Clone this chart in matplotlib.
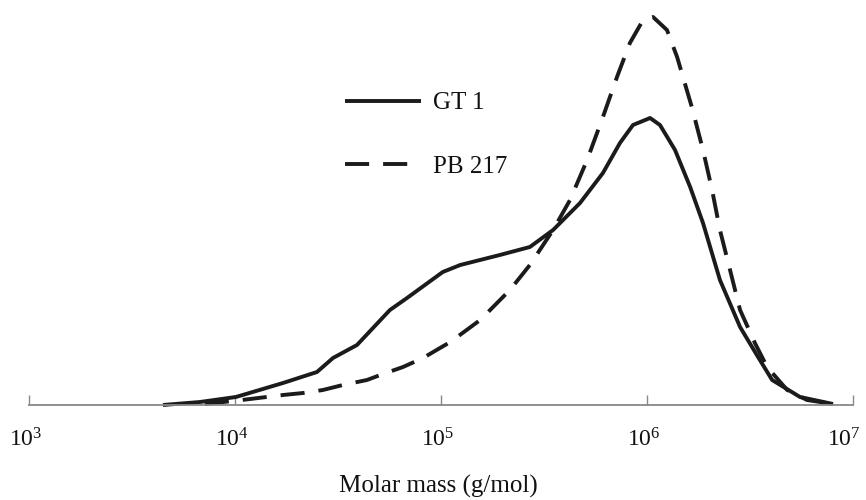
import matplotlib
matplotlib.use("Agg")
import matplotlib.pyplot as plt
from matplotlib.transforms import ScaledTranslation

plt.rcParams['font.family'] = ['Liberation Serif', 'DejaVu Serif']
plt.rcParams['mathtext.fontset'] = 'custom'
plt.rcParams['mathtext.rm'] = 'Liberation Serif'
plt.rcParams['mathtext.it'] = 'Liberation Serif:italic'

# GT 1 (solid)
gt1_mass = [4.47e3, 6.76e3, 1.01e4, 1.71e4, 2.50e4, 2.99e4, 3.91e4, 5.65e4, 6.84e4,
            1.02e5, 1.24e5, 1.93e5, 2.70e5, 3.50e5, 4.73e5, 6.11e5, 7.39e5, 8.55e5,
            1.035e6, 1.156e6, 1.368e6, 1.62e6, 1.87e6, 2.26e6, 2.83e6, 3.46e6,
            4.05e6, 5.53e6, 8.0e6]
gt1_signal = [0, 3, 8, 22, 33, 47, 60, 95, 107,
              133, 140, 150, 158, 175, 202, 232, 262, 280,
              287, 280, 255, 218, 182, 125, 78, 48,
              25, 8, 1]

# PB 217 (dashed)
pb217_mass = [7.14e3, 1.08e4, 1.71e4, 2.14e4, 2.67e4, 3.34e4, 4.37e4, 5.23e4, 6.54e4,
              8.18e4, 9.89e4, 1.11e5, 1.55e5, 2.16e5, 2.70e5, 3.50e5, 4.23e5, 5.12e5,
              6.11e5, 7.15e5, 8.26e5, 9.57e5, 1.07e6, 1.25e6, 1.40e6, 1.65e6, 1.87e6,
              2.07e6, 2.26e6, 2.53e6, 2.83e6, 3.34e6, 3.83e6, 4.79e6, 5.98e6, 8.0e6]
pb217_signal = [1, 5, 10, 12, 15, 20, 25, 31, 38,
                47, 57, 63, 85, 115, 140, 175, 205, 245,
                288, 328, 362, 385, 388, 375, 348, 298, 255,
                215, 175, 135, 95, 62, 38, 15, 5, 1]

tick_values = [1e3, 1e4, 1e5, 1e6, 1e7]
tick_labels = [r'$\mathdefault{10^{3}}$', r'$\mathdefault{10^{4}}$', r'$\mathdefault{10^{5}}$',
               r'$\mathdefault{10^{6}}$', r'$\mathdefault{10^{7}}$']
series_names = ['GT 1', 'PB 217']

fig = plt.figure(figsize=(8.66, 5.0), dpi=100)
ax = fig.add_axes([29/866, 0.19, 824/866, 0.80])

ink = '#1c1a1b'
ax.plot(gt1_mass, gt1_signal, color=ink, lw=2.8, solid_capstyle='butt',
        solid_joinstyle='round', label=series_names[0], clip_on=False)
ax.plot(pb217_mass, pb217_signal, color=ink, lw=2.8, dashes=(6.2, 3.6),
        dash_capstyle='butt', dash_joinstyle='round', label=series_names[1],
        clip_on=False)

ax.set_xscale('log')
ax.set_xlim(1e3, 1e7)
ax.set_ylim(0, 400)
ax.set_xticks(tick_values)
ax.set_xticklabels(tick_labels)
ax.minorticks_off()
ax.tick_params(axis='x', direction='in', length=7.5, width=1.0, color='#888888',
               pad=17, labelsize=17, labelcolor='#111111')
ax.set_yticks([])
for s in ['left', 'right', 'top']:
    ax.spines[s].set_visible(False)
ax.spines['bottom'].set_color('#888888')
ax.spines['bottom'].set_linewidth(1.3)

labels = ax.get_xticklabels()
for i, lab in enumerate(labels):
    dx = -9 if i == len(labels) - 1 else -3
    lab.set_transform(lab.get_transform() + ScaledTranslation(dx / 100, 0, fig.dpi_scale_trans))

ax.set_xlabel('Molar mass (g/mol)', fontsize=18, color='#111111')
ax.xaxis.set_label_coords((438-29)/824, (405-486)/400)
ax.xaxis.label.set_va('center')

leg = ax.legend(loc='upper left', bbox_to_anchor=(345/866, 1-92/500),
                bbox_transform=fig.transFigure, frameon=False, fontsize=18,
                handlelength=3.05, handletextpad=0.48, labelspacing=1.65,
                borderpad=0, borderaxespad=0)
for t in leg.get_texts():
    t.set_color('#111111')

fig.savefig('out.png', dpi=100, facecolor='white')
